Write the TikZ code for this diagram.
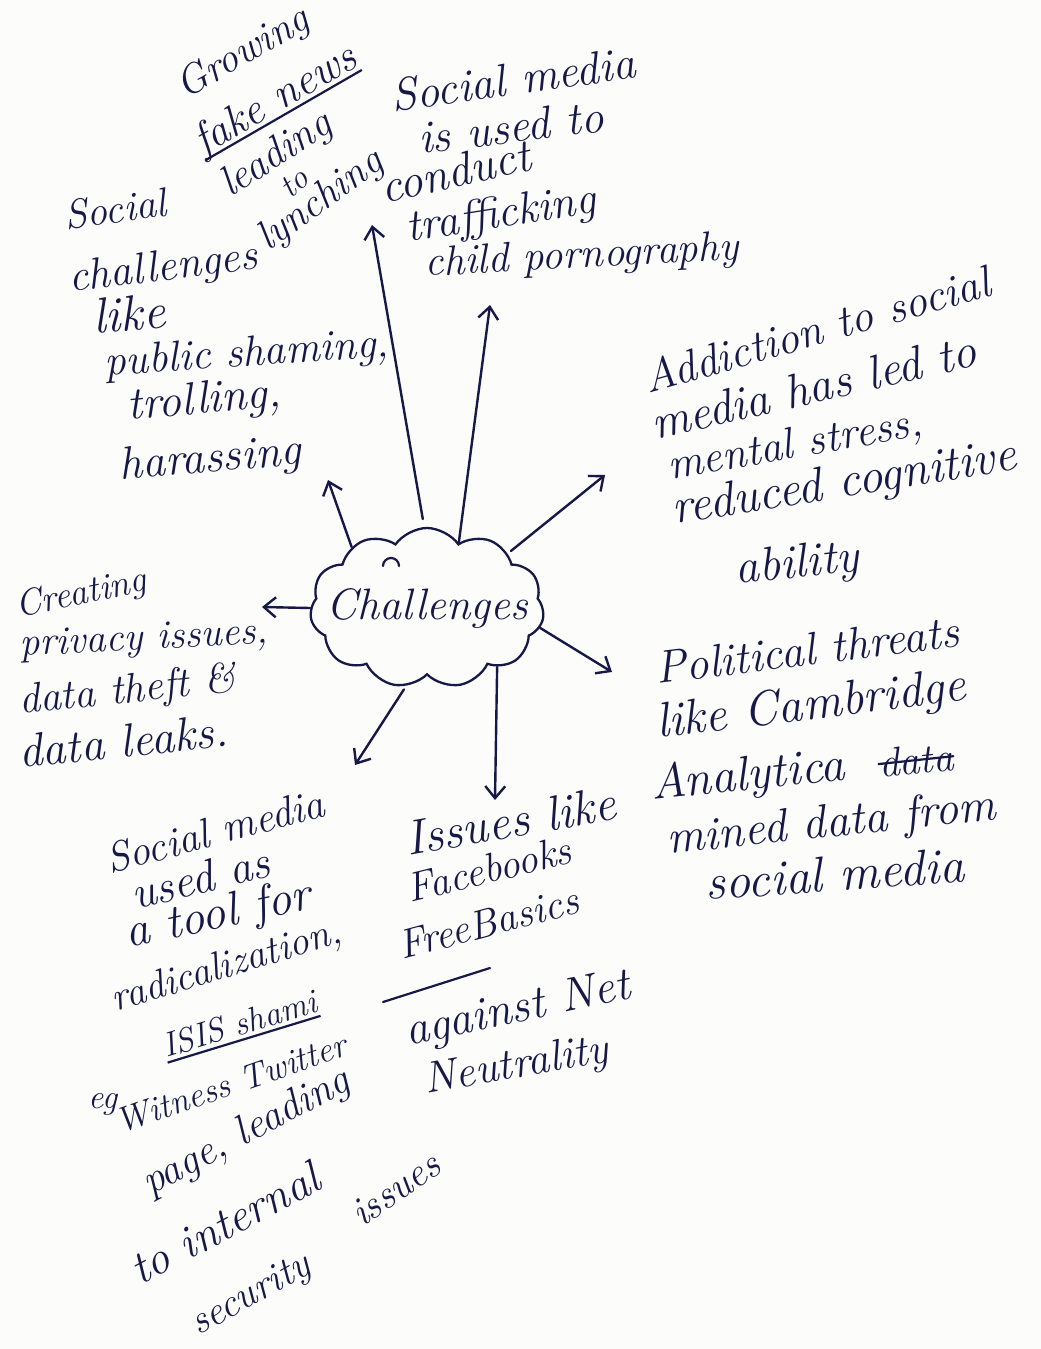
\documentclass[tikz,border=0pt]{standalone}
\usetikzlibrary{arrows.meta,shapes.symbols,calc}
\definecolor{ink}{RGB}{22,24,72}
\definecolor{paper}{RGB}{252,252,250}
\newsavebox\hwulbox
\newcommand\hwul[2][7pt]{\sbox\hwulbox{#2}\rlap{\rule[-#1]{\wd\hwulbox}{2.2pt}}\usebox\hwulbox}
\tikzset{
  hw/.style={text=ink, font=\fontsize{#1}{#1}\selectfont\itshape, anchor=base west, inner sep=0pt},
  hw/.default=41,
  arr/.style={draw=ink, line width=2.4pt, line cap=round, -{Straight Barb[length=12pt,width=20pt]}},
  stroke/.style={draw=ink, line width=2.2pt, line cap=round}
}
\begin{document}
\begin{tikzpicture}[x=1pt,y=-1pt]
\fill[paper] (0,0) rectangle (1041,1349);
\useasboundingbox (0,0) rectangle (1041,1349);

% centre cloud
\node[cloud, draw=ink, line width=2.3pt, cloud puffs=11, cloud puff arc=110, aspect=1.5,
      minimum width=234pt, minimum height=160pt, inner sep=0pt, text=ink,
      font=\fontsize{44}{48}\selectfont\itshape] (ch) at (427,608) {\raisebox{-8pt}{\makebox[0pt]{Challenges}}};
\draw[stroke] (383,566) arc[start angle=180, end angle=360, radius=8];

% Block A: fake news
\node[hw=41,rotate=30] (a1) at (185,100) {Growing};
\node[hw=44,rotate=30] (a2) at (203,156) {\hwul[6pt]{fake news}};
\node[hw=42,rotate=33] (a3) at (230,198) {leading};
\node[hw=33,rotate=40] (a4) at (290,200) {to};
\node[hw=41,rotate=36] (a5) at (268,252) {lynching};

% Block B: trafficking
\node[hw=46,rotate=8] (b1) at (393,112) {Social media};
\node[hw=46,rotate=7] (b2) at (420,154) {is used to};
\node[hw=47,rotate=13] (b3) at (384,204) {conduct};
\node[hw=45,rotate=9] (b4) at (408,242) {trafficking};
\node[hw=42,rotate=3] (b5) at (425,276) {child pornography};

% Block C: social challenges
\node[hw=41,rotate=8] (c1) at (66,230) {Social};
\node[hw=44,rotate=7] (c2) at (70,292) {challenges};
\node[hw=50,rotate=5] (c3) at (94,334) {like};
\node[hw=43,rotate=4] (c4) at (105,376) {public shaming,};
\node[hw=46,rotate=5] (c5) at (128,420) {trolling,};
\node[hw=46,rotate=5] (c6) at (120,480) {harassing};

% Block D: addiction
\node[hw=45,rotate=16] (d1) at (648,394) {Addiction to social};
\node[hw=48,rotate=13] (d2) at (655,440) {media has led to};
\node[hw=44,rotate=10] (d3) at (670,480) {mental stress,};
\node[hw=49,rotate=9] (d4) at (674,524) {reduced cognitive};
\node[hw=48,rotate=6] (d5) at (736,584) {ability};

% Block E: privacy
\node[hw=37,rotate=12] (e1) at (18,618) {Creating};
\node[hw=40,rotate=3] (e2) at (20,656) {privacy issues,};
\node[hw=42,rotate=6] (e3) at (20,714) {data theft \&};
\node[hw=47,rotate=6] (e4) at (20,768) {data leaks.};

% Block F: political
\node[hw=46,rotate=7] (f1) at (657,684) {Political threats};
\node[hw=49,rotate=7] (f2) at (658,738) {like Cambridge};
\node[hw=49,rotate=6] (f3) at (652,800) {Analytica};
\node[hw=41,rotate=6] (f3b) at (880,778) {data};
\draw[stroke] (f3b.west) -- (f3b.east);
\node[hw=47,rotate=6] (f4) at (668,854) {mined data from};
\node[hw=50,rotate=4] (f5) at (706,900) {social media};

% Block G: radicalization
\node[hw=42,rotate=15] (g1) at (110,874) {Social media};
\node[hw=46,rotate=14] (g2) at (135,910) {used as};
\node[hw=48,rotate=12] (g3) at (128,948) {a tool for};
\node[hw=40,rotate=17] (g4) at (115,1012) {radicalization,};
\node[hw=34,rotate=17] (g5) at (166,1058) {\hwul[6pt]{ISIS shami}};
\node[hw=34] (g6) at (88,1108) {eg};
\node[hw=35,rotate=19] (g7) at (120,1134) {Witness Twitter};
\node[hw=42,rotate=28] (g8) at (150,1196) {page, leading};
\node[hw=46,rotate=28] (g9) at (140,1286) {to internal};
\node[hw=40,rotate=35] (g10) at (362,1228) {issues};
\node[hw=40,rotate=29] (g11) at (198,1336) {security};

% Block H: net neutrality
\node[hw=49,rotate=10] (h1) at (408,856) {Issues like};
\node[hw=41,rotate=14] (h2) at (410,903) {Facebooks};
\node[hw=41,rotate=15] (h3) at (402,960) {FreeBasics};
\draw[stroke] (383,1002) -- (490,968);
\node[hw=47,rotate=12] (h4) at (408,1046) {against Net};
\node[hw=44,rotate=10] (h5) at (426,1094) {Neutrality};

% arrow tips
\coordinate (tA) at (372,225);
\coordinate (tB) at (490,305);
\coordinate (tC) at (328,480);
\coordinate (tD) at (605,475);
\coordinate (tE) at (262,607);
\coordinate (tF) at (612,672);
\coordinate (tG) at (355,765);
\coordinate (tH) at (495,800);

\draw[arr, shorten <=8pt] (ch.92) -- (tA);
\draw[arr] (ch.64) -- (tB);
\draw[arr] (ch.141) -- (tC);
\draw[arr, shorten <=4pt] (ch.34) -- (tD);
\draw[arr] (ch.180) -- (tE);
\draw[arr] (ch.-10) -- (tF);
\draw[arr, shorten <=4pt] (ch.-105) -- (tG);
\draw[arr] (ch.-40) -- (tH);
\end{tikzpicture}
\end{document}
